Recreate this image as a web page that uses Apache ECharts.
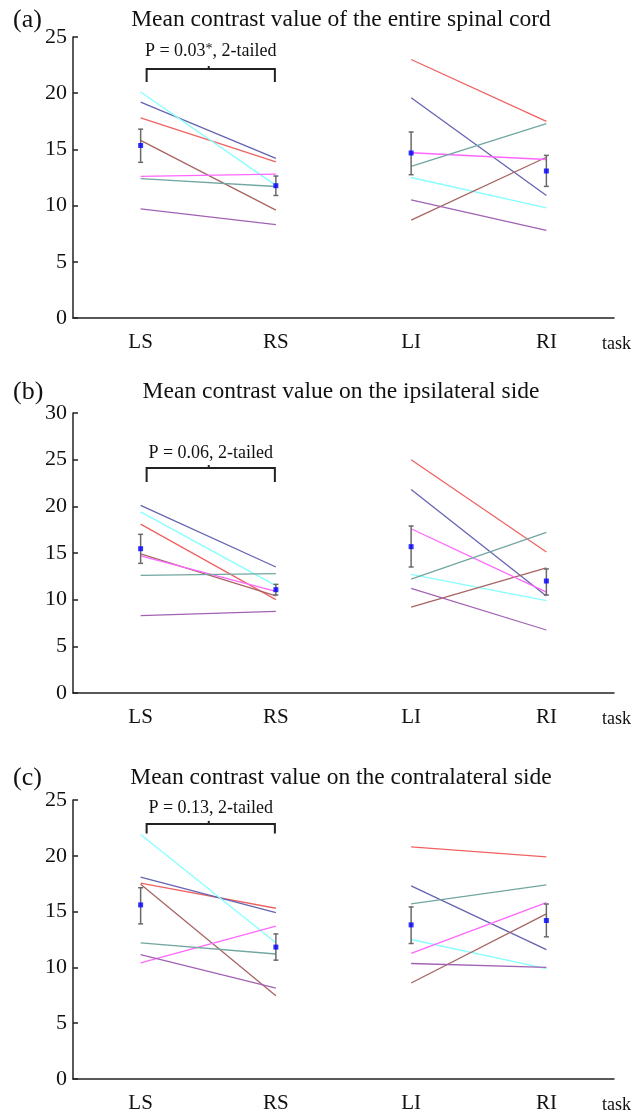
<!DOCTYPE html>
<html>
<head>
<meta charset="utf-8">
<script src="https://cdn.jsdelivr.net/npm/echarts@6/dist/echarts.min.js"></script>
<style>html,body{margin:0;padding:0;background:#fff;}#c{width:644px;height:1114px;}</style>
</head>
<body>
<div id="c"></div>
<script>
// ---- data ----
const categories = ['LS', 'RS', 'LI', 'RI'];
const panelLetters = ['(a)', '(b)', '(c)'];
const panelTitles = [
  'Mean contrast value of the entire spinal cord',
  'Mean contrast value on the ipsilateral side',
  'Mean contrast value on the contralateral side'
];
const yMaxes = [25, 30, 25];
// subject order: red, slate blue, cyan, brown, magenta, teal, purple
// values per subject: [LS, RS, LI, RI]
const valuesA = [
  [17.8, 13.9, 23.0, 17.5],
  [19.2, 14.2, 19.6, 10.9],
  [20.1, 11.8, 12.5, 9.8],
  [15.8, 9.6, 8.7, 14.3],
  [12.6, 12.8, 14.7, 14.1],
  [12.4, 11.7, 13.5, 17.3],
  [9.7, 8.3, 10.5, 7.8]
];
const valuesB = [
  [18.1, 10.0, 25.0, 15.1],
  [20.1, 13.5, 21.8, 10.4],
  [19.4, 11.5, 12.7, 9.9],
  [14.9, 10.4, 9.2, 13.4],
  [14.7, 10.9, 17.6, 10.8],
  [12.6, 12.8, 12.2, 17.2],
  [8.3, 8.75, 11.2, 6.75]
];
const valuesC = [
  [17.55, 15.3, 20.8, 19.9],
  [18.1, 14.9, 17.3, 11.6],
  [21.9, 12.2, 12.5, 9.9],
  [17.45, 7.45, 8.6, 14.8],
  [10.4, 13.7, 11.25, 15.8],
  [12.2, 11.2, 15.7, 17.4],
  [11.15, 8.15, 10.35, 10.0]
];
const meansA = [15.35, 11.77, 14.68, 13.08];
const meansB = [15.46, 11.07, 15.68, 12.0];
const meansC = [15.6, 11.82, 13.81, 14.2];
const errLowA = [13.85, 10.9, 12.75, 11.71];
const errHighA = [16.8, 12.63, 16.55, 14.47];
const errLowB = [13.89, 10.5, 13.5, 10.5];
const errHighB = [17.0, 11.64, 17.89, 13.29];
const errLowC = [13.9, 10.65, 12.14, 12.74];
const errHighC = [17.14, 13.0, 15.42, 15.68];
// significance annotation: [text, bracket top, bracket end, text level]
const pTexts = ['P = 0.03{sup|*}, 2-tailed', 'P = 0.06, 2-tailed', 'P = 0.13, 2-tailed'];
const bracketTops = [22.15, 24.1, 22.86];
const bracketEnds = [21.0, 22.6, 22.0];
const pTextLevels = [23.7, 25.7, 24.26];

// ---- styles ----
const subjectColors = ['#f06262', '#6464b0', '#86ffff', '#a86464', '#ff66ff', '#72a6a0', '#a262b2'];
const FONT = '"Liberation Serif", "Times New Roman", serif';
const INK = '#222';
const gridBoxes = [
  { left: 73, top: 37, width: 541, height: 281 },
  { left: 73, top: 413, width: 541, height: 280 },
  { left: 73, top: 800, width: 541, height: 280 }
];
const titleYs = [20, 392, 778];

const allValues = [valuesA, valuesB, valuesC];
const allMeans = [meansA, meansB, meansC];
const allLow = [errLowA, errLowB, errLowC];
const allHigh = [errHighA, errHighB, errHighC];

const xAxes = [], yAxes = [], series = [], graphics = [];
gridBoxes.forEach((g, i) => {
  xAxes.push({
    type: 'category', gridIndex: i, data: categories, boundaryGap: true,
    axisLine: { lineStyle: { color: INK, width: 1.5 } },
    axisTick: { inside: true, length: 6, lineStyle: { color: INK, width: 1.5 } },
    axisLabel: { fontFamily: FONT, fontSize: 21, color: '#111', margin: 14 },
    name: 'task', nameLocation: 'end', nameGap: -12,
    nameTextStyle: { fontFamily: FONT, fontSize: 18, color: '#111', verticalAlign: 'top', padding: [17, 0, 0, 0] }
  });
  yAxes.push({
    type: 'value', gridIndex: i, min: 0, max: yMaxes[i], interval: 5,
    axisLine: { show: true, lineStyle: { color: INK, width: 1.5 } },
    axisTick: { show: true, inside: true, length: 5, lineStyle: { color: INK, width: 1.5 } },
    axisLabel: { fontFamily: FONT, fontSize: 22, color: '#111', margin: 6 },
    splitLine: { show: false }
  });
  allValues[i].forEach((v, s) => {
    const common = {
      type: 'line', xAxisIndex: i, yAxisIndex: i, symbol: 'none', silent: true,
      lineStyle: { color: subjectColors[s], width: 1.3 }, z: 2
    };
    series.push(Object.assign({}, common, { data: [v[0], v[1], '-', '-'] }));
    series.push(Object.assign({}, common, { data: ['-', '-', v[2], v[3]] }));
  });
  // error bars
  series.push({
    type: 'custom', xAxisIndex: i, yAxisIndex: i, silent: true, z: 5,
    data: categories.map((c, k) => [k, allLow[i][k], allHigh[i][k]]),
    renderItem: function (params, api) {
      const x = api.value(0);
      const lo = api.coord([x, api.value(1)]);
      const hi = api.coord([x, api.value(2)]);
      const cw = 2.5;
      const st = { stroke: '#6a6a6a', lineWidth: 1.5 };
      return {
        type: 'group', children: [
          { type: 'line', shape: { x1: lo[0], y1: lo[1], x2: hi[0], y2: hi[1] }, style: st },
          { type: 'line', shape: { x1: lo[0] - cw, y1: lo[1], x2: lo[0] + cw, y2: lo[1] }, style: st },
          { type: 'line', shape: { x1: hi[0] - cw, y1: hi[1], x2: hi[0] + cw, y2: hi[1] }, style: st }
        ]
      };
    }
  });
  // means
  series.push({
    type: 'scatter', xAxisIndex: i, yAxisIndex: i, silent: true, z: 6,
    symbol: 'rect', symbolSize: 5, itemStyle: { color: '#0000ff' },
    data: categories.map((c, k) => [k, allMeans[i][k]])
  });
  // significance bracket
  series.push({
    type: 'custom', xAxisIndex: i, yAxisIndex: i, silent: true, z: 7,
    data: [[0, 1, bracketTops[i], bracketEnds[i], pTextLevels[i]]],
    renderItem: function (params, api) {
      const a = api.coord([api.value(0), api.value(2)]);
      const b = api.coord([api.value(1), api.value(2)]);
      const e = api.coord([api.value(0), api.value(3)]);
      const t = api.coord([api.value(0), api.value(4)]);
      const x1 = a[0] + 6, x2 = b[0] - 1, mid = (x1 + x2) / 2 - 2;
      const st = { stroke: INK, lineWidth: 2 };
      return {
        type: 'group', children: [
          { type: 'polyline', shape: { points: [[x1, e[1]], [x1, a[1]], [x2, a[1]], [x2, e[1]]] }, style: Object.assign({ fill: null }, st) },
          { type: 'line', shape: { x1: mid, y1: a[1], x2: mid, y2: a[1] - 3 }, style: st },
          {
            type: 'text', x: (x1 + x2) / 2, y: t[1],
            style: {
              text: pTexts[i], align: 'center', verticalAlign: 'middle',
              fontFamily: FONT, fontSize: 18, fill: '#111',
              rich: { sup: { fontFamily: FONT, fontSize: 14, verticalAlign: 'top', fill: '#111' } }
            }
          }
        ]
      };
    }
  });
  graphics.push({
    type: 'text', x: 13, y: titleYs[i], silent: true,
    style: { text: panelLetters[i], fontFamily: FONT, fontSize: 26, fill: '#111', align: 'left', verticalAlign: 'middle' }
  });
  graphics.push({
    type: 'text', x: 341, y: titleYs[i], silent: true,
    style: { text: panelTitles[i], fontFamily: FONT, fontSize: 23.5, fill: '#111', align: 'center', verticalAlign: 'middle' }
  });
});

const chart = echarts.init(document.getElementById('c'), null, { renderer: 'canvas' });
chart.setOption({
  animation: false,
  backgroundColor: '#fff',
  grid: gridBoxes,
  xAxis: xAxes,
  yAxis: yAxes,
  series: series,
  graphic: graphics
});
</script>
</body>
</html>
